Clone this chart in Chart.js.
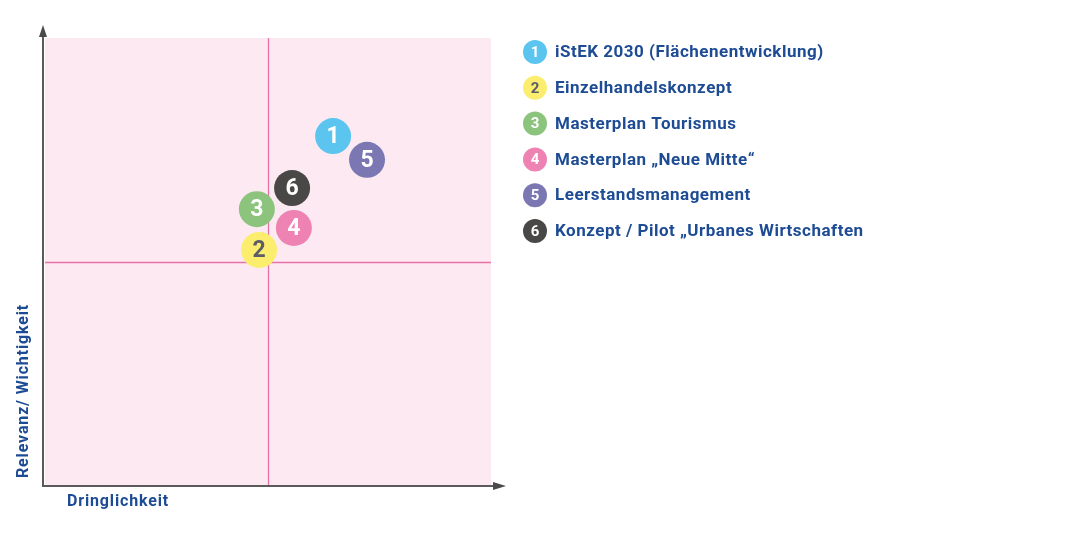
<!DOCTYPE html>
<html lang="de">
<head>
<meta charset="utf-8">
<title>Relevanz / Dringlichkeit</title>
<script src="https://cdn.jsdelivr.net/npm/chart.js@4.4.1/dist/chart.umd.min.js"></script>
<style>
  html, body { margin: 0; padding: 0; background: #fff; }
  #wrap { position: relative; width: 1080px; height: 537px; }
</style>
</head>
<body>
<div id="wrap"><canvas id="chart"></canvas></div>
<script>
// projects, numbered as in the legend
const projectNumbers = ['1', '2', '3', '4', '5', '6'];
const projectNames = [
  'iStEK 2030 (Flächenentwicklung)',
  'Einzelhandelskonzept',
  'Masterplan Tourismus',
  'Masterplan „Neue Mitte“',
  'Leerstandsmanagement',
  'Konzept / Pilot „Urbanes Wirtschaften'
];
// position in the matrix, scale 0..10 on both axes
const urgency = [6.46, 4.80, 4.75, 5.58, 7.22, 5.54];
const relevance = [7.81, 5.27, 6.18, 5.76, 7.28, 6.65];

const bubbleColors = ['#5bc5ef', '#fbee6e', '#8cc47e', '#ee83b3', '#7a77b2', '#4a4846'];
const numberColors = ['#fff', '#5c5c66', '#fff', '#fff', '#fff', '#fff'];
const blue = '#1d4b94';
const font = 'Roboto, "Open Sans", sans-serif';

const matrixPlugin = {
  id: 'matrix',
  beforeDatasetsDraw(chart) {
    const { ctx, chartArea: a, scales: { x, y } } = chart;
    ctx.save();
    ctx.fillStyle = '#fce9f2';
    ctx.fillRect(a.left, a.top, a.right - a.left, a.bottom - a.top);
    // quadrant dividers
    ctx.strokeStyle = '#e672a7';
    ctx.lineWidth = 1.3;
    const mx = Math.round(x.getPixelForValue(5)) + 0.5;
    const my = Math.round(y.getPixelForValue(5)) + 0.5;
    ctx.beginPath();
    ctx.moveTo(mx, a.top); ctx.lineTo(mx, a.bottom);
    ctx.moveTo(a.left, my); ctx.lineTo(a.right, my);
    ctx.stroke();
    // axes with arrows
    const ox = a.left - 2, oy = a.bottom;
    ctx.strokeStyle = '#5a5a5a';
    ctx.fillStyle = '#4a4a4a';
    ctx.lineWidth = 2;
    ctx.beginPath();
    ctx.moveTo(ox, oy); ctx.lineTo(ox, a.top - 4);
    ctx.moveTo(ox - 1, oy); ctx.lineTo(a.right + 4, oy);
    ctx.stroke();
    ctx.beginPath();
    ctx.moveTo(ox, a.top - 13); ctx.lineTo(ox - 4, a.top - 1); ctx.lineTo(ox + 4, a.top - 1);
    ctx.closePath(); ctx.fill();
    ctx.beginPath();
    ctx.moveTo(a.right + 15, oy); ctx.lineTo(a.right + 2, oy - 4); ctx.lineTo(a.right + 2, oy + 4);
    ctx.closePath(); ctx.fill();
    // axis titles
    ctx.fillStyle = blue;
    ctx.font = 'bold 16px ' + font;
    ctx.letterSpacing = '0.85px';
    ctx.textBaseline = 'middle';
    ctx.textAlign = 'left';
    ctx.fillText('Dringlichkeit', a.left + 22, oy + 16);
    ctx.translate(24, oy - 8);
    ctx.rotate(-Math.PI / 2);
    ctx.fillText('Relevanz/ Wichtigkeit', 0, 0);
    ctx.restore();
  },
  afterDatasetsDraw(chart) {
    const { ctx } = chart;
    const pts = chart.getDatasetMeta(0).data;
    ctx.save();
    ctx.textAlign = 'center';
    ctx.textBaseline = 'middle';
    ctx.font = 'bold 23px ' + font;
    pts.forEach((p, i) => {
      ctx.fillStyle = numberColors[i];
      ctx.fillText(projectNumbers[i], p.x, p.y + 1);
    });
    // legend
    const lx = 535, ly = 52, step = 35.8;
    projectNames.forEach((name, i) => {
      const cy = ly + i * step;
      ctx.fillStyle = bubbleColors[i];
      ctx.beginPath();
      ctx.arc(lx, cy, 12, 0, Math.PI * 2);
      ctx.fill();
      ctx.fillStyle = numberColors[i];
      ctx.font = 'bold 15px ' + font;
      ctx.letterSpacing = '0px';
      ctx.textAlign = 'center';
      ctx.fillText(projectNumbers[i], lx, cy + 1);
      ctx.fillStyle = blue;
      ctx.font = 'bold 17px ' + font;
      ctx.letterSpacing = '0.5px';
      ctx.textAlign = 'left';
      ctx.fillText(name, lx + 20, cy + 1);
    });
    ctx.restore();
  }
};

new Chart(document.getElementById('chart'), {
  type: 'bubble',
  data: {
    datasets: [{
      label: 'Projekte',
      data: urgency.map((u, i) => ({ x: u, y: relevance[i] })),
      backgroundColor: bubbleColors,
      borderWidth: 0,
      radius: 18,
      hoverRadius: 0
    }]
  },
  options: {
    responsive: true,
    maintainAspectRatio: false,
    animation: false,
    events: [],
    layout: { padding: { top: 38, right: 589, left: 0, bottom: 0 } },
    plugins: { legend: { display: false }, tooltip: { enabled: false } },
    scales: {
      x: {
        min: 0, max: 10,
        ticks: { display: false },
        grid: { display: false },
        border: { display: false },
        afterFit(s) { s.height = 51; }
      },
      y: {
        min: 0, max: 10,
        ticks: { display: false },
        grid: { display: false },
        border: { display: false },
        afterFit(s) { s.width = 45; }
      }
    }
  },
  plugins: [matrixPlugin]
});
</script>
</body>
</html>
